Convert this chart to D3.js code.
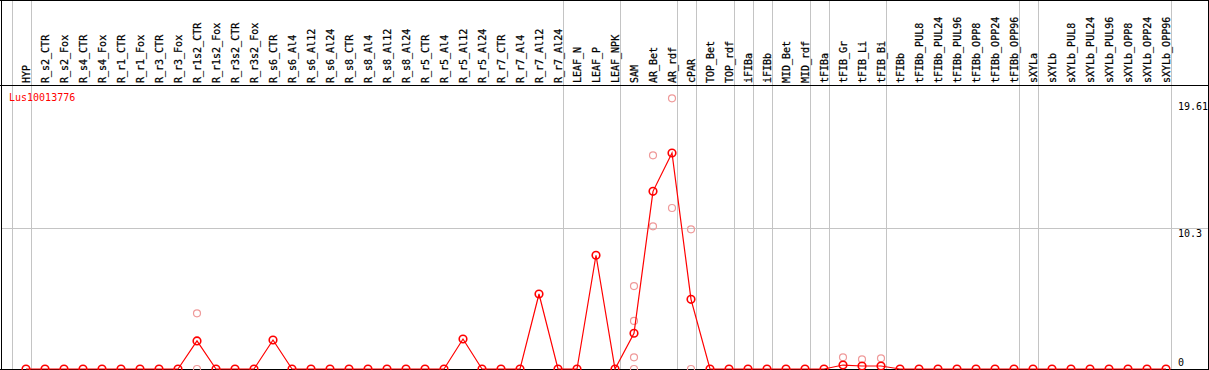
<!DOCTYPE html>
<html>
<head>
<meta charset="utf-8">
<script src="https://cdn.jsdelivr.net/npm/d3@7/dist/d3.min.js"></script>
<style>
  body { margin: 0; background: #fff; }
  svg { display: block; }
  text { font-family: "DejaVu Sans Mono", monospace; font-size: 10px; }
</style>
</head>
<body>
<svg width="1209" height="370"></svg>
<script>
const geneName = 'Lus10013776';

const categories = [
  'HYP', 'R_s2_CTR', 'R_s2_Fox', 'R_s4_CTR', 'R_s4_Fox', 'R_r1_CTR', 'R_r1_Fox',
  'R_r3_CTR', 'R_r3_Fox', 'R_r1s2_CTR', 'R_r1s2_Fox', 'R_r3s2_CTR', 'R_r3s2_Fox',
  'R_s6_CTR', 'R_s6_Al4', 'R_s6_Al12', 'R_s6_Al24', 'R_s8_CTR', 'R_s8_Al4',
  'R_s8_Al12', 'R_s8_Al24', 'R_r5_CTR', 'R_r5_Al4', 'R_r5_Al12', 'R_r5_Al24',
  'R_r7_CTR', 'R_r7_Al4', 'R_r7_Al12', 'R_r7_Al24', 'LEAF_N', 'LEAF_P', 'LEAF_NPK',
  'SAM', 'AR_Bet', 'AR_rdf', 'cPAR', 'TOP_Bet', 'TOP_rdf', 'iFIBa', 'iFIBb',
  'MID_Bet', 'MID_rdf', 'tFIBa', 'tFIB_Gr', 'tFIB_Li', 'tFIB_Bi', 'tFIBb',
  'tFIBb_PUL8', 'tFIBb_PUL24', 'tFIBb_PUL96', 'tFIBb_OPP8', 'tFIBb_OPP24', 'tFIBb_OPP96',
  'sXYLa', 'sXYLb', 'sXYLb_PUL8', 'sXYLb_PUL24', 'sXYLb_PUL96', 'sXYLb_OPP8',
  'sXYLb_OPP24', 'sXYLb_OPP96'
];

// mean expression per sample
const means = [
  0, 0, 0, 0, 0, 0, 0, 0, 0, 2.05, 0, 0, 0,
  2.12, 0, 0, 0, 0, 0, 0, 0, 0, 0, 2.19, 0,
  0, 0, 5.48, 0, 0, 8.31, 0,
  2.61, 12.98, 15.78, 5.09, 0, 0, 0, 0,
  0, 0, 0, 0.29, 0.22, 0.22, 0,
  0, 0, 0, 0, 0, 0,
  0, 0, 0, 0, 0, 0, 0, 0
];

// individual replicates that can be seen (sample name, value)
const repSamples = ['R_r1s2_CTR', 'R_r1s2_CTR', 'SAM', 'SAM', 'SAM', 'SAM',
  'AR_Bet', 'AR_Bet', 'AR_rdf', 'AR_rdf', 'cPAR', 'cPAR',
  'tFIB_Gr', 'tFIB_Li', 'tFIB_Bi'];
const repValues = [4.07, 0, 6.06, 3.51, 0.85, 0,
  15.61, 10.42, 19.77, 11.76, 10.2, 0,
  0.85, 0.71, 0.78];

// group boundaries: a gray rule after these sample indices (-1 = before the first)
const groupEnds = [-1, 0, 28, 31, 34, 35, 37, 38, 39, 41, 42, 45, 52, 53, 60];

const yTicks = [0, 10.3, 19.61];

const W = 1209, H = 370;
const svg = d3.select('svg');

const x = d3.scaleLinear().domain([0, categories.length - 1]).range([26, 1166]);
const y = d3.scaleLinear().domain([0, 10.3]).range([369, 228]);

const gray = '#c4c4c4';

// vertical group rules
svg.append('g')
  .selectAll('line')
  .data(groupEnds)
  .join('line')
  .attr('x1', (d) => Math.round(x(d) + 5) + 0.5)
  .attr('x2', (d) => Math.round(x(d) + 5) + 0.5)
  .attr('y1', 0)
  .attr('y2', H)
  .attr('stroke', gray)
  .attr('stroke-width', 1);

// horizontal grid line at the middle tick
svg.append('line')
  .attr('x1', 1).attr('x2', W - 1)
  .attr('y1', Math.round(y(yTicks[1])) + 0.5)
  .attr('y2', Math.round(y(yTicks[1])) + 0.5)
  .attr('stroke', gray);

// frame
const frame = svg.append('g').attr('stroke', '#000').attr('stroke-width', 1);
frame.append('line').attr('x1', 0).attr('x2', W).attr('y1', 0.5).attr('y2', 0.5);
frame.append('line').attr('x1', 0).attr('x2', W).attr('y1', 85.5).attr('y2', 85.5);
frame.append('line').attr('x1', 0).attr('x2', W).attr('y1', 369.5).attr('y2', 369.5);
frame.append('line').attr('x1', 1.5).attr('x2', 1.5).attr('y1', 0).attr('y2', H);
frame.append('line').attr('x1', 1208.5).attr('x2', 1208.5).attr('y1', 0).attr('y2', H);

// column labels
svg.append('g')
  .selectAll('text')
  .data(categories)
  .join('text')
  .attr('transform', (d, i) => `translate(${x(i) + 3.6},83) rotate(-90)`)
  .attr('fill', '#000')
  .attr('stroke', '#000')
  .attr('stroke-width', 0.25)
  .text((d) => d);

// y tick labels on the right
svg.append('g')
  .selectAll('text')
  .data(yTicks)
  .join('text')
  .attr('x', 1178)
  .attr('y', (d) => Math.min(y(d) + 9, 366))
  .attr('fill', '#000')
  .text((d) => d);

// title
svg.append('text')
  .attr('x', 9)
  .attr('y', 101)
  .attr('fill', '#ff0000')
  .text(geneName);

// replicate points
const idx = (name) => categories.indexOf(name);
svg.append('g')
  .selectAll('circle')
  .data(repValues)
  .join('circle')
  .attr('cx', (d, i) => x(idx(repSamples[i])))
  .attr('cy', (d) => y(d))
  .attr('r', 3.5)
  .attr('fill', 'none')
  .attr('stroke', '#ef9a9a')
  .attr('stroke-width', 1.2);

// mean line
const line = d3.line()
  .x((d, i) => x(i))
  .y((d) => y(d));

svg.append('path')
  .attr('d', line(means))
  .attr('fill', 'none')
  .attr('stroke', '#ff0000')
  .attr('stroke-width', 1.2);

// mean points
svg.append('g')
  .selectAll('circle')
  .data(means)
  .join('circle')
  .attr('cx', (d, i) => x(i))
  .attr('cy', (d) => y(d))
  .attr('r', 3.8)
  .attr('fill', 'none')
  .attr('stroke', '#ff0000')
  .attr('stroke-width', 1.6);
</script>
</body>
</html>
